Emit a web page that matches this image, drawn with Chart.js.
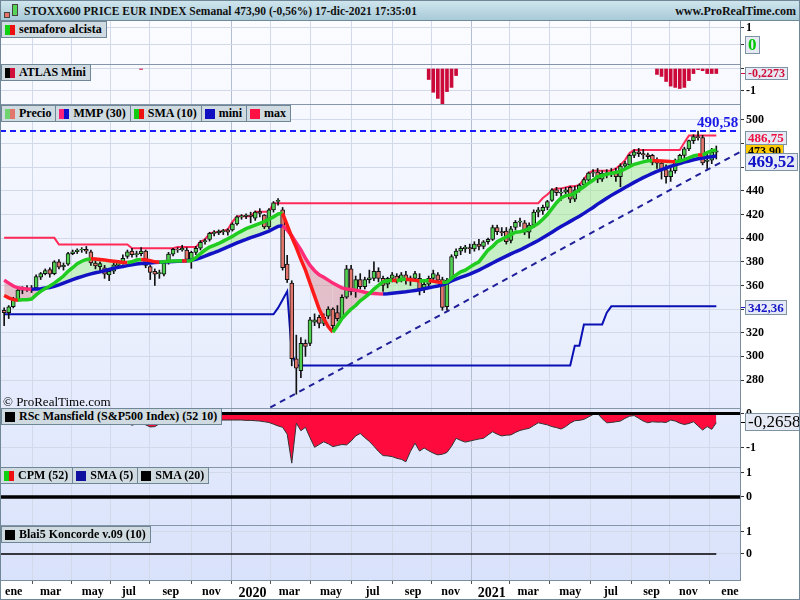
<!DOCTYPE html>
<html lang="es">
<head>
<meta charset="utf-8">
<title>STOXX600 PRICE EUR INDEX Semanal</title>
<script src="https://cdn.jsdelivr.net/npm/chart.js@4.4.1/dist/chart.umd.min.js"></script>
<style>
  body { margin: 0; background: #fff; }
  #wrap { position: relative; width: 800px; height: 600px; overflow: hidden; background: #fff; font-family: "Liberation Serif", "DejaVu Serif", serif; }
  #fondo { position: absolute; left: 0; top: 20px; width: 740px; height: 560px; background: linear-gradient(#fbfcff 0%, #eef2fe 45%, #d9e2fb 100%); }
  canvas { position: absolute; left: 0; z-index: 1; }
  #cabecera { position: absolute; left: 0; top: 0; width: 800px; height: 21px; box-sizing: border-box; background: linear-gradient(#cfe5ed, #a8cad8); border: 1px solid #6f8a99; z-index: 6; }
  #titulo { position: absolute; left: 23px; top: 2px; font: bold 13px "Liberation Serif", serif; color: #111; white-space: nowrap; transform: scaleX(0.885); transform-origin: left center; }
  #web { position: absolute; right: 3px; top: 3px; font: bold 12px "Liberation Serif", serif; color: #111; }
  .vela { position: absolute; border: 1px solid #444; box-sizing: border-box; }
  .sep { position: absolute; left: 0; width: 740px; height: 1px; background: #8496a8; z-index: 4; }
  .leyenda { position: absolute; display: flex; z-index: 5; }
  .caja { display: flex; align-items: center; height: 17px; box-sizing: border-box; padding: 0 4px 0 3px; background: #cfdae1; border: 1px solid #6e8696; margin-right: -1px; font: bold 12px "Liberation Serif", serif; color: #000; white-space: nowrap; }
  .icono { display: inline-block; width: 10px; height: 10px; margin-right: 4px; }
  .valor { position: absolute; left: 745px; padding: 0 2px; box-sizing: border-box; background: #e5eaf4; border: 1px solid #7d93a4; font: bold 12px "Liberation Serif", serif; white-space: nowrap; z-index: 5; }
  .marca { position: absolute; left: 741px; width: 4px; height: 1px; z-index: 5; }
  #copy { position: absolute; left: 3px; top: 394px; font: 13px "Liberation Serif", serif; color: #000; z-index: 5; }
  #marco { position: absolute; left: 0; top: 0; width: 800px; height: 600px; box-sizing: border-box; border: 1px solid #6f8797; z-index: 7; pointer-events: none; }
</style>
</head>
<body>
<div id="wrap">
  <div id="fondo"></div>
  <div id="cabecera">
    <div class="vela" style="left:3px;top:11px;width:6px;height:6px;background:#e9736b"></div>
    <div class="vela" style="left:11px;top:3px;width:6px;height:12px;background:#55d455"></div>
    <span id="titulo">STOXX600 PRICE EUR INDEX Semanal 473,90 (-0,56%) 17-dic-2021 17:35:01</span>
    <span id="web">www.ProRealTime.com</span>
  </div>
  <div class="sep" style="top:64px"></div>
  <div class="sep" style="top:104px"></div>
  <div class="sep" style="top:408px"></div>
  <div class="sep" style="top:467px"></div>
  <div class="sep" style="top:525px"></div>
  <div id="copy">© ProRealTime.com</div>
  <div id="marco"></div>
</div>
<script>
// Velas semanales: semana 0 = 21-dic-2018 ... semana 156 = 17-dic-2021
const opens = [
  339, 337, 342, 348, 356, 357, 358, 358, 367, 370,
  373.5, 370, 380, 376, 378, 387, 388.5, 390, 390.5, 388.5,
  379, 376, 375, 369, 372, 377, 380, 384.5, 389, 386,
  387, 389, 376, 372, 370, 369.5, 379, 386.5, 390.5, 390,
  390, 382, 388, 391.5, 397, 399, 404, 404.5, 405.5, 407,
  407, 412, 418, 418.5, 419.5, 417, 422.5, 419.5, 409.5, 424,
  431, 424, 378, 362, 298, 288, 311, 311, 329, 333,
  328, 334, 340, 337, 332, 350, 374, 355, 365, 359,
  365, 366, 372, 366, 361, 366, 368, 365, 369, 364,
  366, 366, 357, 361, 366, 369, 365, 342, 365, 385,
  389, 391, 392, 391, 395, 393, 397, 399, 409, 405.5,
  406, 398, 409, 413.5, 413, 405, 411, 422, 423, 426,
  432, 441, 438, 439, 443, 433, 441, 445, 449, 455,
  456, 450, 455, 455.5, 456, 452, 461, 462, 470, 473,
  471.5, 470.5, 470, 466, 463.5, 458, 452, 457, 466, 470,
  475.5, 482.5, 486, 485, 465, 466, 472.8
];
const highs = [
  341, 343, 350, 357, 359, 360, 360, 369, 371, 374,
  375, 381, 382, 379, 388, 390, 391, 392, 393, 390,
  381, 380, 377, 373, 379, 381, 386, 390, 391.5, 389,
  392, 390, 377, 374, 373, 380, 388, 391.5, 392, 394,
  392, 389, 393, 398, 399.5, 405, 406.5, 407, 407.5, 408,
  413, 419, 420, 420.5, 422, 423, 425, 420, 425, 431,
  433.5, 426, 385.5, 364, 318, 316, 314, 333, 336, 335,
  336, 342, 341, 343, 352, 377, 377, 368, 370, 367,
  373, 380, 375, 368, 367, 371, 370, 371, 372, 368,
  372, 370, 363, 368, 373, 371, 367, 366, 386, 391,
  393, 394, 395, 397, 399, 398, 400, 411, 411, 409,
  409, 410, 415, 417, 415, 413, 424, 426, 428, 432,
  442, 443, 442, 443, 444, 444, 446, 451, 456, 458,
  459, 457, 458, 459, 459, 463, 465, 471, 475, 476,
  475, 472, 471, 468, 466, 462, 460, 467, 471, 477,
  483, 487.5, 490.58, 487, 471, 476, 478
];
const lows = [
  326, 332, 341, 347, 353, 355, 354, 357, 365, 369,
  367, 369, 374, 373, 377, 386, 387, 388, 387, 377,
  374, 372, 366, 364, 370, 375, 378, 383, 384, 384,
  385, 375, 365, 360, 366, 368, 378, 385, 388, 389,
  380, 374.5, 386, 390, 395, 397.5, 402, 403, 403, 402.5,
  406, 411, 416, 416.5, 413, 415, 418, 408, 408, 422,
  428, 373, 362.5, 292, 268, 282, 300, 309, 326, 324,
  326, 332, 322, 330, 331, 349, 352, 350, 357, 357,
  362, 364, 363, 355, 358, 363, 362, 363, 361, 360,
  364, 352, 354, 359, 364, 363, 339, 339, 364, 383,
  386, 388, 387, 389, 390, 391, 395, 398, 403, 402,
  395, 396, 407, 410, 403, 400, 409, 418, 420, 424,
  431, 436, 432, 435, 430, 431, 439, 443, 448, 452,
  447, 448, 451, 452, 448, 443.5, 458, 461, 468, 469,
  467, 466, 462, 459, 450, 446.5, 448, 455, 463, 468,
  474, 480, 483, 462, 459, 463, 467
];
const closes = [
  337, 342, 349, 356, 357.5, 358, 357, 367.5, 370, 372.5,
  369.5, 380, 375.5, 377, 387, 388.5, 390, 390.5, 389, 379,
  376.5, 378.5, 369.5, 372, 377.5, 380, 383, 388.5, 386, 387,
  389, 377, 371, 369.5, 371, 379, 386.5, 390.5, 390, 391.5,
  382, 388, 391.5, 396.5, 398, 404, 405, 406, 406.5, 405,
  412, 418, 419, 419.5, 418.5, 422, 421, 409.5, 424, 430,
  432, 375, 365, 298, 290, 311, 308.5, 331, 331, 328,
  333, 340, 326, 332, 350, 374, 355, 365, 359, 365,
  366.5, 372, 366, 360, 366, 369, 365, 369, 364, 366.5,
  370, 357, 361, 366, 370, 364.5, 341.5, 364.5, 384.5, 389,
  391.5, 392.5, 391, 395, 393, 397, 399, 409, 405.5, 404.5,
  397, 408, 413.5, 414.5, 405, 411, 422, 424, 426, 431,
  441, 438.5, 439, 441, 433, 441, 445, 449.5, 455, 455.5,
  450, 455, 455.5, 456, 452, 461, 463, 470, 473, 471.5,
  470.5, 469, 464, 463.5, 458, 452, 457, 466, 470, 475.5,
  482.5, 486, 485, 463.6, 466, 472.8, 473.9
];
// Medias
const sma10 = [
  351.5, 349.5, 348, 347.5, 348, 348, 348.5, 352, 355, 357.5,
  359.5, 362, 365, 368, 372, 375, 378.5, 380.5, 382, 382.5,
  382.4, 382, 381.5, 381, 380.5, 380, 379.5, 379.4, 380, 381.5,
  382, 381.8, 381, 380, 379.7, 380, 380.5, 380.6, 380.7, 381,
  380.6, 381, 383.5, 387, 390, 392.5, 394, 395.5, 397.5, 399.5,
  401.5, 404, 406, 408, 409.5, 411, 412.5, 414, 416, 418,
  420.5, 421, 411, 401, 392, 382, 373, 362, 351, 340,
  332, 325, 320.5, 326, 332, 336, 340, 343, 347, 350,
  353, 357, 360, 363, 364, 364.5, 364, 365, 365.2, 364.8,
  364.3, 363.8, 364, 364.2, 363.6, 363, 362.5, 362.8, 366, 369,
  371.5, 373, 375.5, 378, 380, 385, 390, 393, 397, 399,
  401, 403, 405, 405.5, 406.5, 408, 410, 412.5, 416, 420,
  425, 430, 434, 436, 436.5, 438, 441, 443.5, 446.5, 449,
  452, 453, 454, 455, 455.5, 456.5, 458.5, 460.5, 462.5, 463.5,
  464.5, 465.5, 465.6, 465.4, 465.2, 465, 464.8, 464.7, 465.3, 466.5,
  468, 469.5, 470.5, 470.2, 472.5, 474, 474.5
];
const mmp30 = [
  364.5, 362, 359.5, 358, 357.5, 357, 356.8, 357, 357.3, 357.8,
  358.2, 359.2, 360.5, 362, 363.5, 365, 366.3, 367.5, 368.7, 369.8,
  370.8, 371.5, 372.5, 373.5, 374.5, 375.3, 376, 376.8, 377.5, 378.1,
  378.5, 378.8, 379.1, 379.4, 379.6, 379.8, 380, 380.2, 380.4, 380.6,
  380.9, 381.4, 382.2, 383.4, 384.9, 386.4, 387.8, 389.3, 390.9, 392.6,
  394.3, 396, 397.6, 399, 400.5, 401.8, 403, 404.5, 406, 408,
  410, 410.5, 407, 402, 396, 390, 383, 377, 372.5, 369,
  367, 364.5, 362, 360, 358, 357, 356.5, 356, 355.2, 354.3,
  353.5, 353.3, 353, 352.8, 353, 353.4, 353.8, 354.2, 354.6, 355.2,
  355.8, 356.4, 357.2, 358, 358.8, 359.6, 360.5, 362, 363.8, 365.3,
  366.8, 368.2, 369.6, 371.3, 373, 375, 377, 379, 381, 382.9,
  384.8, 386.7, 388.5, 390, 392, 394, 396, 398, 400.3, 402.6,
  405, 407.5, 409.8, 412, 414.2, 416.5, 418.5, 421, 423.5, 426,
  428.8, 431.3, 433.8, 436.2, 438.5, 440.5, 442.8, 445, 447.2, 449.2,
  451.2, 453, 454.8, 456.5, 458, 459.5, 460.8, 462, 463.2, 464.3,
  465.3, 466.3, 467.2, 467.8, 468.4, 468.9, 469.52
];
// Vértices de las líneas "max" y "mini"
const maxWeeks = [0, 11, 12, 27, 28, 37, 38, 42, 43, 44, 45, 46, 47, 48, 49, 50, 51, 54, 55, 58, 59, 117,
  118, 119, 120, 121, 122, 123, 124, 125, 126, 127, 128, 129, 133, 134, 135, 136, 137, 138, 148, 149, 150, 156];
const maxValues = [400.3, 400.3, 394.6, 394.6, 391.5, 391.5, 392.5, 392.5, 397, 399, 404, 405, 405.3, 406, 407.6, 413.8, 418.6, 418.6, 422.3, 422.3, 429.6, 429.6,
  434, 437, 440.7, 442, 442, 443, 444, 444, 445, 450, 455, 457, 457, 459, 462, 466, 472, 474.6, 474.6, 481, 486.75, 486.75];
const miniWeeks = [0, 59, 60, 61, 62, 63, 64, 124, 125, 126, 127, 131, 132, 133, 156];
const miniValues = [335.6, 335.6, 341, 348, 355, 303, 292.4, 292.4, 309, 309, 327, 327, 337, 342.36, 342.36];
const topLevel = 490.58;
const trendWeeks = [58.3, 161.2];
const trendValues = [256.8, 472.9];

// Indicadores
const atlasWeeks = [30, 93, 94, 95, 96, 97, 98, 99, 143, 144, 145, 146, 147, 148, 149, 150, 151, 152, 153, 154, 155, 156];
const atlasValues = [-0.04, -0.5, -1.08, -1.36, -1.6, -1.05, -0.86, -0.32, -0.27, -0.36, -0.59, -0.8, -0.86, -0.91, -0.86, -0.55, -0.23, -0.05, -0.1, -0.23, -0.23, -0.2273];
const rscMansfield = [
  -0.12, -0.15, -0.14, -0.18, -0.22, -0.26, -0.25, -0.2, -0.17, -0.15,
  -0.16, -0.13, -0.15, -0.14, -0.12, -0.1, -0.09, -0.1, -0.12, -0.18,
  -0.2, -0.21, -0.25, -0.24, -0.2, -0.19, -0.18, -0.28, -0.34, -0.3,
  -0.24, -0.33, -0.39, -0.38, -0.3, -0.24, -0.2, -0.17, -0.16, -0.15,
  -0.2, -0.18, -0.16, -0.17, -0.19, -0.18, -0.2, -0.21, -0.19, -0.19,
  -0.19, -0.19, -0.19, -0.2, -0.2, -0.21, -0.22, -0.24, -0.26, -0.31,
  -0.36, -0.4, -0.6, -1.44, -0.28, -0.5, -0.4, -0.7, -0.98, -0.9,
  -0.82, -0.88, -0.96, -0.93, -0.9, -0.91, -0.8, -0.65, -0.58, -0.7,
  -0.81, -0.95, -1.1, -1.22, -1.23, -1.25, -1.3, -1.33, -1.4, -1.1,
  -0.86, -1.09, -1.0, -1.08, -1.15, -1.2, -1.18, -1.13, -0.95, -0.72,
  -0.78, -0.83, -0.8, -0.77, -0.74, -0.72, -0.62, -0.53, -0.6, -0.65,
  -0.63, -0.62, -0.55, -0.49, -0.46, -0.43, -0.35, -0.27, -0.3, -0.33,
  -0.38, -0.41, -0.45, -0.38, -0.28, -0.21, -0.2, -0.17, -0.1, -0.03,
  0, -0.15, -0.27, -0.26, -0.24, -0.22, -0.14, -0.08, -0.06, -0.14,
  -0.22, -0.27, -0.24, -0.25, -0.25, -0.26, -0.19, -0.22, -0.28, -0.32,
  -0.29, -0.24, -0.36, -0.48, -0.38, -0.46, -0.2658
];
const blaiWeeks = [-0.91, 156];
const blaiValues = [0, 0];
const cpmWeeks = [-0.91, 161.19];
const cpmValues = [0, 0];

// Eje de tiempo
const xTickWeeks = [2.1, 10.2, 19.4, 27.3, 36.5, 45.4, 54.4, 62.5, 71.6, 80.7, 89.6, 97.8, 106.8, 114.8, 124.0, 132.9, 141.8, 149.9, 159.0];
const xTickLabels = ['ene', 'mar', 'may', 'jul', 'sep', 'nov', '2020', 'mar', 'may', 'jul', 'sep', 'nov', '2021', 'mar', 'may', 'jul', 'sep', 'nov', 'ene'];
const priceTicks = [500, 480, 460, 440, 420, 400, 380, 360, 340, 320, 300, 280];

const SERIF = '"Liberation Serif", "DejaVu Serif", serif';
const X_MIN = -0.91;
const X_MAX = 161.19;
const VERDE = '#1fcc1f', ROJO = '#ff1a1a', AZUL = '#1212c4', ROSA = '#ff2c78';

const esAnio = (i) => /^\d{4}$/.test(xTickLabels[i] || '');
const puntos = (xs, ys) => xs.map((x, i) => ({ x: x, y: ys[i] }));
const serie = (ys) => ys.map((y, i) => ({ x: i, y: y }));

function ejeX(conEtiquetas) {
    return {
        type: 'linear', min: X_MIN, max: X_MAX, offset: false,
        afterBuildTicks: (s) => { s.ticks = xTickWeeks.map((v) => ({ value: v })); },
        afterFit: (s) => { s.height = conEtiquetas ? 20 : 0; s.paddingLeft = 0; s.paddingRight = 0; },
        ticks: {
            display: conEtiquetas, autoSkip: false, maxRotation: 0, minRotation: 0, padding: 1, color: '#000',
            callback: (v, i) => xTickLabels[i],
            font: (c) => ({ family: SERIF, size: esAnio(c.index) ? 14 : 12, weight: 'bold' }),
        },
        grid: { color: (c) => (esAnio(c.index) ? '#b3bfd0' : '#d2d9e8'), drawTicks: conEtiquetas, tickLength: 4, tickColor: '#555' },
        border: { display: conEtiquetas, color: '#7a8ea0' },
    };
}

function ejeY(min, max, valores, textos) {
    return {
        position: 'right', min: min, max: max,
        afterBuildTicks: (s) => { s.ticks = valores.map((v) => ({ value: v })); },
        afterFit: (s) => { s.width = 60; s.paddingTop = 0; s.paddingBottom = 0; },
        ticks: { color: '#000', padding: 2, autoSkip: false, font: { family: SERIF, size: 12, weight: 'bold' }, callback: (v, i) => textos[i] },
        grid: { color: '#d2d9e8', tickColor: '#333', tickLength: 4 },
        border: { color: '#7a8ea0' },
    };
}

function panel(top, alto, datasets, eje, conEtiquetas) {
    const lienzo = document.createElement('canvas');
    lienzo.width = 800;
    lienzo.height = alto;
    lienzo.style.top = top + 'px';
    document.getElementById('wrap').appendChild(lienzo);
    return new Chart(lienzo.getContext('2d'), {
        type: 'bar',
        data: { datasets: datasets },
        options: {
            responsive: false, animation: false, events: [],
            layout: { padding: 0, autoPadding: false },
            plugins: { legend: { display: false }, tooltip: { enabled: false }, filler: { drawTime: 'beforeDatasetsDraw' } },
            scales: { x: ejeX(conEtiquetas), y: eje },
        },
    });
}

const linea = (extra) => Object.assign({ type: 'line', pointRadius: 0, tension: 0, fill: false }, extra);

// Panel semaforo alcista
panel(20, 44, [], ejeY(-1.118, 1.47, [1, 0], ['1', '']), false);

// Panel ATLAS Mini
panel(64, 40, [{
    type: 'bar', data: puntos(atlasWeeks, atlasValues), backgroundColor: '#cc0a3a',
    barThickness: 3, maxBarThickness: 3, grouped: false,
}], ejeY(-1.614, 0.205, [0, -1], ['', '-1']), false);

// Panel de precio
panel(104, 304, [
    linea({
        data: serie(sma10), borderWidth: 3.5, borderColor: VERDE, order: 0,
        segment: { borderColor: (c) => (c.p1.parsed.y >= c.p0.parsed.y ? VERDE : ROJO) },
        fill: { target: 1, above: 'rgba(160, 236, 140, 0.5)', below: 'rgba(214, 130, 140, 0.45)' },
    }),
    linea({
        data: serie(mmp30), borderWidth: 3.5, borderColor: AZUL, order: 1,
        segment: { borderColor: (c) => (c.p1.parsed.y >= c.p0.parsed.y ? AZUL : ROSA) },
    }),
    {
        type: 'bar', order: 2, grouped: false, barThickness: 4, maxBarThickness: 4,
        data: opens.map((o, i) => ({ x: i, y: [o, closes[i]] })),
        backgroundColor: (c) => (closes[c.dataIndex] >= opens[c.dataIndex] ? '#50d050' : '#e2756c'),
        borderColor: '#111', borderWidth: 1, borderSkipped: false,
    },
    {
        type: 'bar', order: 3, grouped: false, barThickness: 1, maxBarThickness: 1,
        data: lows.map((l, i) => ({ x: i, y: [l, highs[i]] })), backgroundColor: '#111',
    },
    linea({ data: puntos([X_MIN, X_MAX], [topLevel, topLevel]), borderColor: '#1a1aff', borderWidth: 2, borderDash: [6, 4], order: 4 }),
    linea({ data: puntos(trendWeeks, trendValues), borderColor: '#20209a', borderWidth: 2, borderDash: [6, 5], order: 5 }),
    linea({ data: puntos(miniWeeks, miniValues), borderColor: '#0a10b4', borderWidth: 2, order: 6 }),
    linea({ data: puntos(maxWeeks, maxValues), borderColor: '#ff2a58', borderWidth: 2, order: 7 }),
], ejeY(256.35, 513.5, priceTicks, priceTicks.map(String)), false);

// Panel RSc Mansfield
panel(408, 59, [
    linea({ data: puntos([X_MIN, X_MAX], [0, 0]), borderColor: '#000', borderWidth: 3, order: 0 }),
    linea({ data: serie(rscMansfield), borderColor: '#333', borderWidth: 1, fill: 'origin', backgroundColor: '#ff0a3c', order: 1 }),
], ejeY(-1.551, 0.159, [0, -1], ['0', '-1']), false);

// Panel CPM
panel(467, 58, [
    linea({ data: puntos(cpmWeeks, cpmValues), borderColor: '#000', borderWidth: 3.5 }),
], ejeY(-1.167, 1.25, [1, 0], ['1', '0']), false);

// Panel Blai5 Koncorde con el eje de fechas
panel(525, 75, [
    linea({ data: puntos(blaiWeeks, blaiValues), borderColor: '#000', borderWidth: 1.5 }),
], ejeY(-1.182, 1.318, [1, 0], ['1', '0']), true);

// Leyendas de cada panel
function leyenda(top, left, items) {
    const fila = document.createElement('div');
    fila.className = 'leyenda';
    fila.style.top = top + 'px';
    fila.style.left = left + 'px';
    items.forEach(([texto, colores]) => {
        const caja = document.createElement('div');
        caja.className = 'caja';
        const icono = document.createElement('span');
        icono.className = 'icono';
        icono.style.background = colores.length > 1
            ? `linear-gradient(to right, ${colores[0]} 50%, ${colores[1]} 50%)`
            : colores[0];
        caja.appendChild(icono);
        caja.appendChild(document.createTextNode(texto));
        fila.appendChild(caja);
    });
    document.getElementById('wrap').appendChild(fila);
}

leyenda(21, 1, [['semaforo alcista', ['#10d010', '#ee1010']]]);
leyenda(64, 1, [['ATLAS Mini', ['#000', '#d0103a']]]);
leyenda(105, 1, [
    ['Precio', ['#6fd46f', '#e2756c']],
    ['MMP (30)', ['#ff2277', '#1010cc']],
    ['SMA (10)', ['#11cc11', '#ee1111']],
    ['mini', ['#1010c0']],
    ['max', ['#ff1144']],
]);
leyenda(408, 1, [['RSc Mansfield (S&P500 Index) (52 10)', ['#000']]]);
leyenda(467, 0, [['CPM (52)', ['#10d010', '#ee1010']], ['SMA (5)', ['#1010a0']], ['SMA (20)', ['#000']]]);
leyenda(526, 1, [['Blai5 Koncorde v.09 (10)', ['#000']]]);

// Etiquetas de valor en el eje derecho
function valor(texto, top, alto, estilo) {
    const d = document.createElement('div');
    d.className = 'valor';
    d.textContent = texto;
    d.style.top = top + 'px';
    d.style.height = alto + 'px';
    d.style.lineHeight = (alto - 2) + 'px';
    Object.assign(d.style, estilo);
    document.getElementById('wrap').appendChild(d);
}
function marca(top, color) {
    const m = document.createElement('div');
    m.className = 'marca';
    m.style.top = top + 'px';
    m.style.background = color;
    document.getElementById('wrap').appendChild(m);
}

valor('0', 36, 18, { color: '#00c800', fontSize: '17px' });
marca(73, '#d0103a');
valor('-0,2273', 67, 13, { color: '#d0103a' });
valor('486,75', 131, 14, { color: '#ee1040', fontSize: '13px' });
valor('473,90', 144, 14, { color: '#000', background: '#ffcc00' });
valor('469,52', 153, 18, { color: '#1010c8', fontSize: '17px' });
marca(307, '#1414c8');
valor('342,36', 300, 15, { color: '#1414c8', fontSize: '13px' });
marca(422, '#000');
valor('-0,2658', 413, 18, { color: '#000', fontSize: '17px', fontWeight: 'normal' });

const nivel = document.createElement('div');
nivel.textContent = '490,58';
Object.assign(nivel.style, { position: 'absolute', left: '697px', top: '114px', font: 'bold 15px ' + SERIF, color: '#1a1ae6', zIndex: 5 });
document.getElementById('wrap').appendChild(nivel);
</script>
</body>
</html>
